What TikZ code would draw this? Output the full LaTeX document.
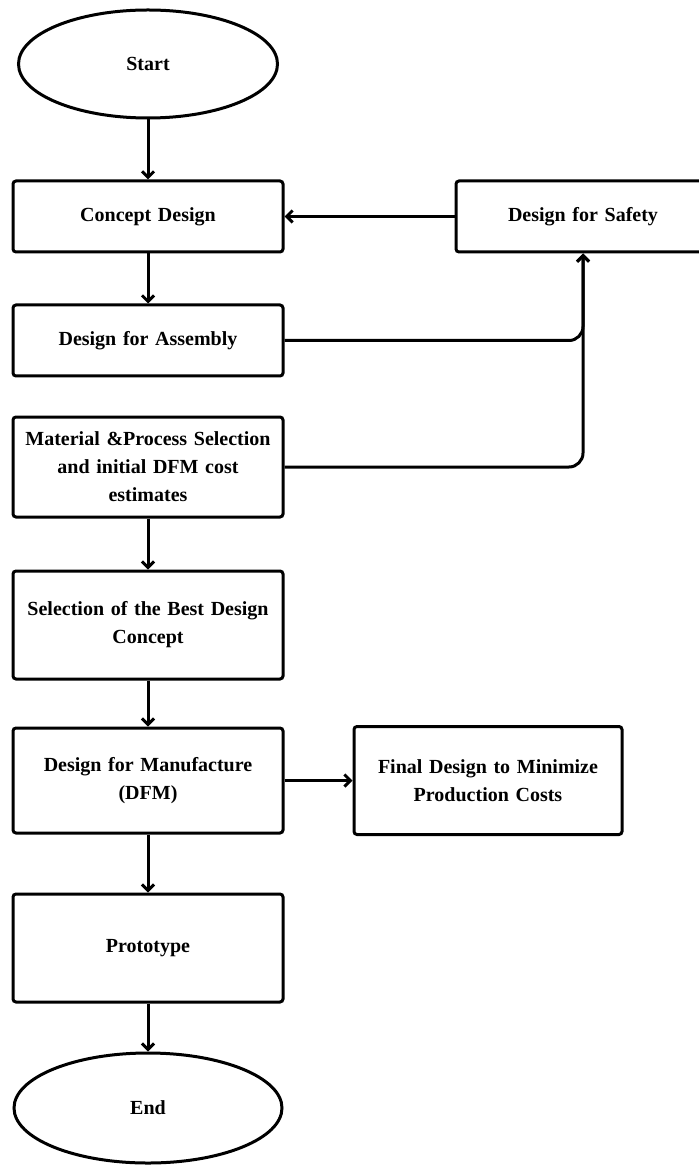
\documentclass[tikz,border=0pt]{standalone}
\usepackage{fontspec}
\setmainfont{Liberation Serif}
\usetikzlibrary{arrows.meta, positioning, shapes.geometric}

\begin{document}
\begin{tikzpicture}[
      node distance=26pt and 34pt,
      every node/.style={font=\fontsize{10}{14}\selectfont\bfseries},
      box/.style={draw, line width=1.5pt, rounded corners=1.5pt, minimum width=135pt, text width=131pt, align=center, inner sep=0pt},
      term/.style={draw, line width=1.5pt, ellipse, inner sep=0pt},
      arr/.style={-{Straight Barb[length=3pt, width=6pt]}, line width=1.5pt}
    ]
    \useasboundingbox (0,0) rectangle (349.5pt,-582.5pt);
    \node[term, minimum width=129.5pt, minimum height=54pt] (start) at (74pt,-32pt) {Start};
    \node[box, minimum height=35.5pt, below=30pt of start] (concept) {Concept Design};
    \node[box, minimum height=35.5pt, text width=120pt, minimum width=127pt, right=85pt of concept] (safety) {Design for Safety};
    \node[box, minimum height=35.5pt, below=25pt of concept] (assembly) {Design for Assembly};
    \node[box, minimum height=50pt, below=19pt of assembly] (material) {Material \&Process Selection\\and initial DFM cost\\estimates};
    \node[box, minimum height=54pt, below=25.5pt of material] (select) {Selection of the Best Design\\Concept\\[2pt]};
    \node[box, minimum height=52.5pt, below=23pt of select] (dfm) {Design for Manufacture\\(DFM)};
    \node[box, minimum height=54pt, minimum width=134pt, right=of dfm] (final) {Final Design to Minimize\\Production Costs};
    \node[box, minimum height=54pt, below=29pt of dfm] (proto) {Prototype};
    \node[term, minimum width=134pt, minimum height=55pt, below=24pt of proto] (end) {End};
    \draw[arr] (start) -- (concept);
    \draw[arr] (concept) -- (assembly);
    \draw[arr] (safety) -- (concept);
    \draw[arr, rounded corners=7pt] (assembly.east) -| (safety.south);
    \draw[arr, rounded corners=7pt] (material.east) -| (safety.south);
    \draw[arr] (material) -- (select);
    \draw[arr] (select) -- (dfm);
    \draw[arr] (dfm) -- (final);
    \draw[arr] (dfm) -- (proto);
    \draw[arr] (proto) -- (end);
  \end{tikzpicture}
\end{document}
